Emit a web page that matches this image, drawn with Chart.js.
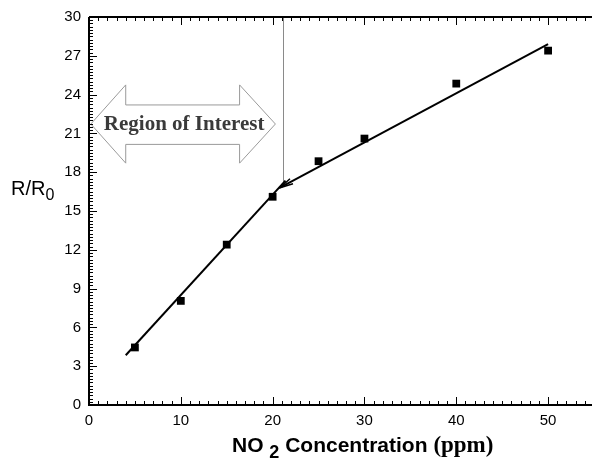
<!DOCTYPE html>
<html>
<head>
<meta charset="utf-8">
<script src="https://cdn.jsdelivr.net/npm/chart.js@4.4.1/dist/chart.umd.min.js"></script>
<style>
  html, body { margin:0; padding:0; background:#fff; overflow:hidden; width:592px; height:466px; }
  #wrap { position:relative; width:600px; height:466px; }
  canvas { position:absolute; left:0; top:0; }
  .ttl { position:absolute; color:#000; white-space:nowrap; }
  #ytitle { left:11px; top:177px; font:20px "Liberation Sans", Arial, sans-serif; }
  #ytitle sub { font-size:16px; vertical-align:-5px; line-height:0; }
  #xtitle { left:232px; top:432px; font:bold 21px "Liberation Sans", Arial, sans-serif; }
  #xtitle sub { font-size:18px; vertical-align:-6px; line-height:0; }
  #xtitle .u { font-family:"Liberation Serif", "Times New Roman", serif; font-size:23px; }
</style>
</head>
<body>
<div id="wrap">
  <canvas id="c" width="600" height="466"></canvas>
  <div class="ttl" id="ytitle">R/R<sub>0</sub></div>
  <div class="ttl" id="xtitle">NO <sub>2</sub> Concentration <span class="u">(ppm)</span></div>
</div>
<script>
// ---- data ----
const concentration = [5, 10, 15, 20, 25, 30, 40, 50];
const ratio = [4.45, 8.05, 12.4, 16.1, 18.85, 20.6, 24.85, 27.4];
const fitLowX = [4, 21.4];
const fitLowY = [3.85, 17.35];
const fitHighX = [20.8, 50];
const fitHighY = [16.8, 27.9];
const regionBoundaryX = 21.1;
const regionLabel = "Region of Interest";
const xTicks = [0, 10, 20, 30, 40, 50];
const yTicks = [0, 3, 6, 9, 12, 15, 18, 21, 24, 27, 30];

const toPts = (xs, ys) => xs.map((x, i) => ({x: x, y: ys[i]}));

const annotationPlugin = {
  id: 'figureDecor',
  beforeDatasetsDraw(chart) {
    const {ctx, chartArea: a, scales: {x, y}} = chart;
    ctx.save();
    // vertical boundary line
    ctx.strokeStyle = '#8a8a8a';
    ctx.lineWidth = 1;
    ctx.beginPath();
    const vx = Math.round(x.getPixelForValue(regionBoundaryX)) + 0.5;
    ctx.moveTo(vx, a.top);
    ctx.lineTo(vx, y.getPixelForValue(17.1));
    ctx.stroke();

    // double arrow
    const xl = x.getPixelForValue(0.2), xr = x.getPixelForValue(20.3);
    const hl = x.getPixelForValue(4.0), hr = x.getPixelForValue(16.4);
    const yTop = y.getPixelForValue(24.75), yBot = y.getPixelForValue(18.7);
    const sTop = y.getPixelForValue(23.2), sBot = y.getPixelForValue(20.15);
    const yc = (yTop + yBot) / 2;
    ctx.beginPath();
    ctx.moveTo(xl, yc);
    ctx.lineTo(hl, yTop);
    ctx.lineTo(hl, sTop);
    ctx.lineTo(hr, sTop);
    ctx.lineTo(hr, yTop);
    ctx.lineTo(xr, yc);
    ctx.lineTo(hr, yBot);
    ctx.lineTo(hr, sBot);
    ctx.lineTo(hl, sBot);
    ctx.lineTo(hl, yBot);
    ctx.closePath();
    ctx.fillStyle = '#fff';
    ctx.fill();
    ctx.strokeStyle = '#9a9a9a';
    ctx.lineWidth = 1;
    ctx.stroke();
    ctx.fillStyle = '#3a3a3a';
    ctx.font = 'bold 21px "Liberation Serif", "Times New Roman", serif';
    ctx.textAlign = 'center';
    ctx.textBaseline = 'middle';
    ctx.fillText(regionLabel, (xl + xr) / 2 + 1, yc + 1);
    ctx.restore();
  },
  afterDatasetsDraw(chart) {
    const {ctx, chartArea: a, scales: {x, y}} = chart;
    ctx.save();
    // arrow head at start of upper fit line
    const tx = x.getPixelForValue(fitHighX[0]), ty = y.getPixelForValue(fitHighY[0]);
    ctx.strokeStyle = '#000';
    ctx.lineWidth = 1.5;
    ctx.beginPath();
    ctx.moveTo(tx + 10, ty - 9);
    ctx.lineTo(tx, ty);
    ctx.lineTo(tx + 13, ty - 4);
    ctx.stroke();

    // frame
    ctx.strokeStyle = '#000';
    ctx.lineWidth = 2;
    ctx.beginPath();
    ctx.moveTo(a.left, a.top);
    ctx.lineTo(a.left, a.bottom);
    ctx.lineTo(a.right, a.bottom);
    ctx.moveTo(a.left, a.top);
    ctx.lineTo(a.right, a.top);
    ctx.stroke();

    // inward ticks
    ctx.lineWidth = 1;
    ctx.beginPath();
    for (let v = 1; v <= 55; v++) {
      const px = Math.round(x.getPixelForValue(v)) + 0.5;
      const len = v % 10 === 0 ? 8 : 4;
      ctx.moveTo(px, a.bottom); ctx.lineTo(px, a.bottom - len);
      ctx.moveTo(px, a.top); ctx.lineTo(px, a.top + len);
    }
    for (let k = 1; k < 120; k++) {
      const v = k * 0.25;
      const py = Math.round(y.getPixelForValue(v)) + 0.5;
      const len = k % 12 === 0 ? 8 : 4;
      ctx.moveTo(a.left, py); ctx.lineTo(a.left + len, py);
    }
    ctx.stroke();
    ctx.restore();
  }
};

new Chart(document.getElementById('c'), {
  type: 'scatter',
  data: {
    datasets: [
      {
        label: 'Measured',
        data: toPts(concentration, ratio),
        pointStyle: 'rect',
        pointRadius: 5.5,
        backgroundColor: '#000',
        borderColor: '#000',
        borderWidth: 0,
        order: 0
      },
      {
        label: 'Fit (low)',
        data: toPts(fitLowX, fitLowY),
        showLine: true,
        borderColor: '#000',
        borderWidth: 2,
        pointRadius: 0,
        order: 1
      },
      {
        label: 'Fit (high)',
        data: toPts(fitHighX, fitHighY),
        showLine: true,
        borderColor: '#000',
        borderWidth: 2,
        pointRadius: 0,
        order: 1
      }
    ]
  },
  options: {
    responsive: false,
    animation: false,
    layout: { padding: { top: 15, right: 6, left: 0, bottom: 0 } },
    plugins: { legend: { display: false }, tooltip: { enabled: false } },
    scales: {
      x: {
        type: 'linear', min: 0, max: 55,
        border: { display: false },
        grid: { display: false, drawTicks: false },
        afterBuildTicks: s => { s.ticks = xTicks.map(v => ({value: v})); },
        afterFit: s => { s.height = 61; },
        ticks: { color: '#000', padding: 7, maxRotation: 0,
                 font: { family: '"Liberation Sans", Arial, sans-serif', size: 15 } }
      },
      y: {
        type: 'linear', min: 0, max: 30,
        border: { display: false },
        grid: { display: false, drawTicks: false },
        afterBuildTicks: s => { s.ticks = yTicks.map(v => ({value: v})); },
        afterFit: s => { s.width = 89; },
        ticks: { color: '#000', padding: 8,
                 font: { family: '"Liberation Sans", Arial, sans-serif', size: 15 } }
      }
    }
  },
  plugins: [annotationPlugin]
});
</script>
</body>
</html>
